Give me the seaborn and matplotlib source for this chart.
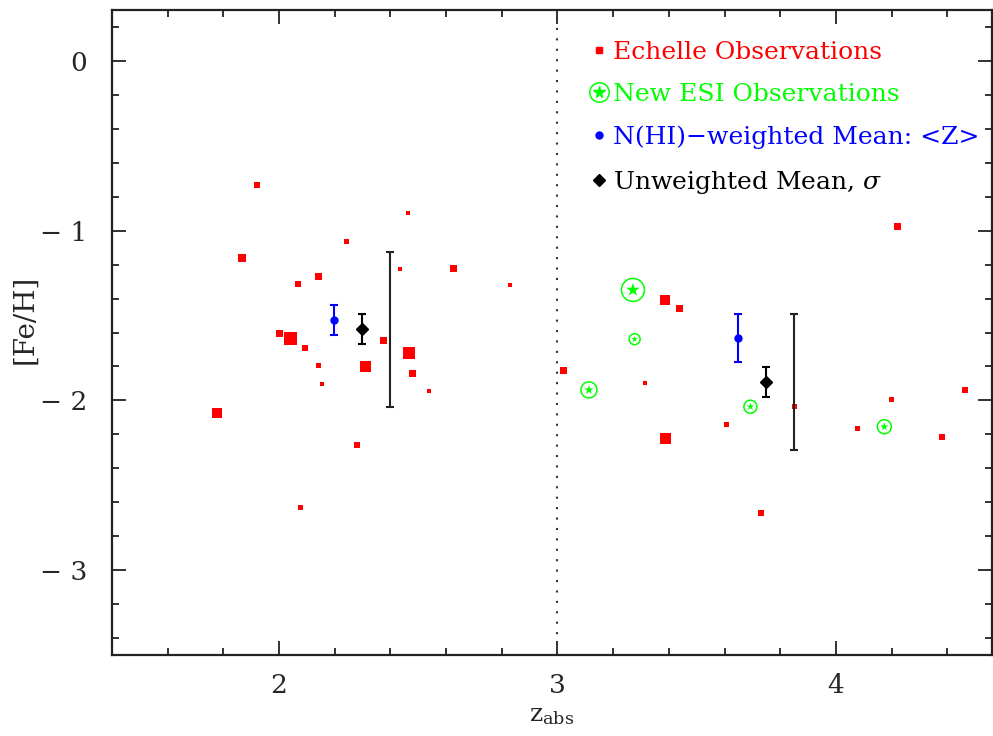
import numpy as np
import pandas as pd
import matplotlib
matplotlib.use("Agg")
import matplotlib.pyplot as plt
import seaborn as sns
from matplotlib.legend_handler import HandlerTuple
from matplotlib.lines import Line2D

# echelle observations: redshift, [Fe/H], relative weight (marker side, px)
ech_z = [1.92, 1.867, 2.464, 2.241, 2.434, 2.625, 2.068, 2.141, 2.828,
         2.00, 2.04, 2.094, 2.141, 2.154, 1.778, 2.309, 2.376, 2.466,
         2.478, 2.538, 2.28, 2.077,
         3.387, 3.437, 4.22, 3.023, 3.315, 3.853, 3.607, 3.388, 3.732,
         4.077, 4.199, 4.38, 4.462]
ech_feh = [-0.733, -1.161, -0.898, -1.061, -1.228, -1.225, -1.312, -1.27, -1.318,
           -1.604, -1.637, -1.694, -1.796, -1.904, -2.076, -1.802, -1.647, -1.722,
           -1.843, -1.945, -2.263, -2.632,
           -1.41, -1.459, -0.973, -1.826, -1.898, -2.035, -2.143, -2.226, -2.661,
           -2.167, -1.994, -2.218, -1.941]
ech_w = [6, 8, 4, 5, 4, 7, 6, 7, 4,
         7, 13, 6, 5, 4, 10, 11, 7, 12,
         7, 4, 6, 5,
         10, 7, 7, 7, 4, 5, 4.5, 11, 6,
         5, 5, 6, 6]

# new ESI observations
esi_z = [3.271, 3.277, 3.113, 3.693, 4.174]
esi_feh = [-1.349, -1.639, -1.938, -2.037, -2.155]
esi_w = [23, 11, 16, 13, 14]

# means per redshift bin
nhi_z = [2.197, 3.649]
nhi_mean = [-1.525, -1.633]
nhi_err = [0.09, 0.14]
unw_z = [2.297, 3.749]
unw_mean = [-1.58, -1.892]
unw_err = [0.09, 0.09]
sig_z = [2.398, 3.849]
sig_val = [0.457, 0.40]

red = "#ff0000"
green = "#00ff00"
blue = "#0000ff"

sns.set_style("ticks")
plt.rcParams["font.family"] = ["DejaVu Serif"]
plt.rcParams["mathtext.fontset"] = "dejavuserif"

fig = plt.figure(figsize=(9.93, 7.36), dpi=100)
ax = fig.add_axes([0.1128, 0.110, 0.886, 0.8764])

px = 0.72  # points per pixel
ech = pd.DataFrame({"z": ech_z, "feh": ech_feh, "w": ech_w})
sns.scatterplot(data=ech, x="z", y="feh", marker="s", color=red,
                s=(ech["w"] * px) ** 2, linewidth=0, ax=ax, legend=False)

esi = pd.DataFrame({"z": esi_z, "feh": esi_feh, "w": esi_w})
sns.scatterplot(data=esi, x="z", y="feh", marker="o", facecolor="none",
                edgecolor=green, s=(esi["w"] * px) ** 2, linewidth=1.1,
                ax=ax, legend=False)
sns.scatterplot(data=esi, x="z", y="feh", marker="*", color=green,
                s=(esi["w"] * 0.62 * px) ** 2, linewidth=0, ax=ax, legend=False)

ax.errorbar(nhi_z, nhi_mean, yerr=nhi_err, fmt="o", color=blue, ms=5,
            capsize=3, elinewidth=1.5, capthick=1.5)
ax.errorbar(unw_z, unw_mean, yerr=unw_err, fmt="D", color="black", ms=6.5,
            capsize=3, elinewidth=1.5, capthick=1.5)
ax.errorbar(sig_z, unw_mean, yerr=sig_val, fmt="none", ecolor="#222222",
            capsize=3, elinewidth=1.5, capthick=1.5)

ax.axvline(3.0, color="#333333", lw=1.5, ls=(0, (1, 4)))

ax.set_xlim(1.4, 4.56)
ax.set_ylim(-3.5, 0.3)
ax.set_xticks([2, 3, 4])
ax.set_xticks(np.arange(1.6, 4.6, 0.2), minor=True)
ax.set_yticks([0, -1, -2, -3])
ax.set_yticklabels(["0", "\u2212 1", "\u2212 2", "\u2212 3"])
ax.set_yticks(np.arange(-3.4, 0.3, 0.2), minor=True)
ax.tick_params(which="both", direction="in", top=True, right=True,
               labelsize=19, width=1.3, color="#222222")
ax.tick_params(which="major", length=10, pad=13)
ax.tick_params(axis="y", which="major", pad=18)
ax.tick_params(which="minor", length=5)
for sp in ax.spines.values():
    sp.set_linewidth(1.6)
    sp.set_color("#222222")

ax.set_xlabel(r"z$_{\rm abs}$", fontsize=18, labelpad=4)
ax.set_ylabel("[Fe/H]", fontsize=20)
ax.yaxis.set_label_coords(-0.084, 0.52)

h_ech = Line2D([], [], marker="s", color=red, ls="none", ms=4.5)
h_ring = Line2D([], [], marker="o", mfc="none", mec=green, ls="none", ms=14, mew=1.1)
h_star = Line2D([], [], marker="*", color=green, ls="none", ms=8.5)
h_nhi = Line2D([], [], marker="o", color=blue, ls="none", ms=5)
h_unw = Line2D([], [], marker="D", color="black", ls="none", ms=6)
leg = ax.legend([h_ech, (h_ring, h_star), h_nhi, h_unw],
                ["Echelle Observations", "New ESI Observations",
                 "N(HI)\u2212weighted Mean: <Z>", r"Unweighted Mean, $\sigma$"],
                handler_map={tuple: HandlerTuple(ndivide=1, pad=0)},
                loc="upper left", bbox_to_anchor=(0.533, 0.968), frameon=False,
                fontsize=18, handlelength=0.65, handletextpad=0.25,
                labelspacing=0.78, borderaxespad=0, borderpad=0.4)
for txt, c in zip(leg.get_texts(), [red, green, blue, "black"]):
    txt.set_color(c)

fig.savefig("out.png", dpi=100)
